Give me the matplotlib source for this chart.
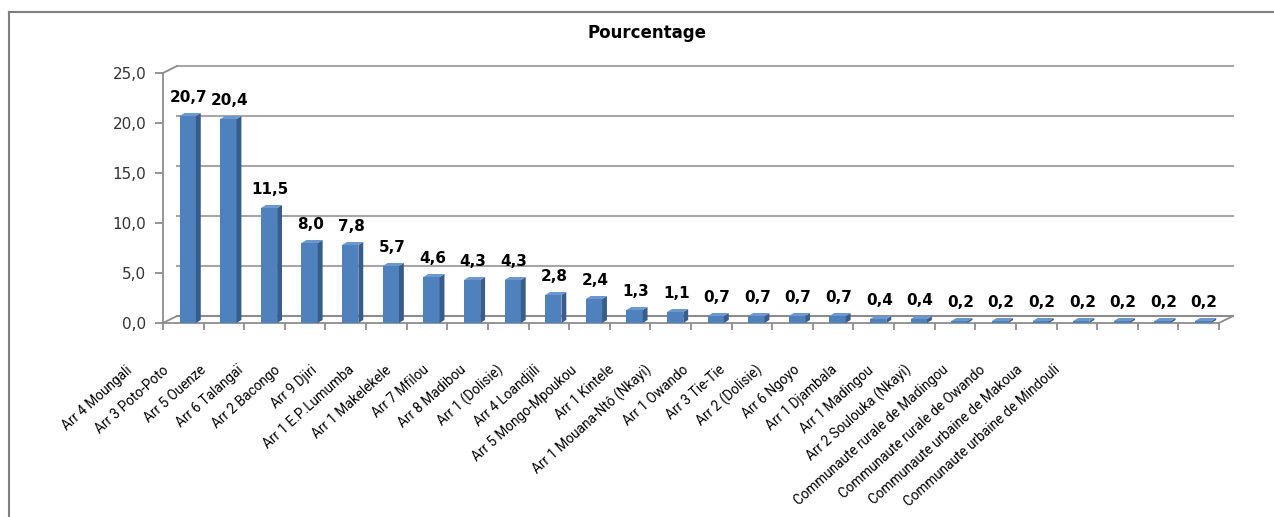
import matplotlib
matplotlib.use('Agg')
import matplotlib.pyplot as plt
from matplotlib.lines import Line2D
from matplotlib.patches import Polygon
from matplotlib.transforms import ScaledTranslation

categories = ["Arr 4 Moungali", "Arr 3 Poto-Poto", "Arr 5 Ouenze", "Arr 6 Talangaï",
              "Arr 2 Bacongo", "Arr 9 Djiri", "Arr 1 E.P.Lumumba", "Arr 1 Makelekele",
              "Arr 7 Mfilou", "Arr 8 Madibou", "Arr 1 (Dolisie)", "Arr 4 Loandjili",
              "Arr 5 Mongo-Mpoukou", "Arr 1 Kintele", "Arr 1 Mouana-Ntô (Nkayi)",
              "Arr 1 Owando", "Arr 3 Tie-Tie", "Arr 2 (Dolisie)", "Arr 6 Ngoyo",
              "Arr 1 Djambala", "Arr 1 Madingou", "Arr 2 Soulouka (Nkayi)",
              "Communaute rurale de Madingou", "Communaute rurale de Owando",
              "Communaute urbaine de Makoua", "Communaute urbaine de Mindouli"]
values = [20.7, 20.4, 11.5, 8.0, 7.8, 5.7, 4.6, 4.3, 4.3, 2.8, 2.4, 1.3, 1.1,
          0.7, 0.7, 0.7, 0.7, 0.4, 0.4, 0.2, 0.2, 0.2, 0.2, 0.2, 0.2, 0.2]
y_ticks = [0, 5, 10, 15, 20, 25]
title = "Pourcentage"

W, H = 1274, 517
fig = plt.figure(figsize=(W / 100, H / 100), dpi=100)
fig.patch.set_facecolor('white')


def fx(px):
    return px / W


def fy(py):
    return 1 - py / H


GRAY = '#8C8C8C'
GRID = '#A6A6A6'
FRONT = '#4F81BD'
SIDE = '#385D8A'
TOP = '#6D98CF'

x0, x1 = 163, 1219
yb, yt = 323, 73
ax = fig.add_axes([fx(x0), fy(yb), fx(x1) - fx(x0), fy(yt) - fy(yb)])
n = len(categories)
ax.set_xlim(0, n)
ax.set_ylim(0, 25)
ax.set_facecolor('none')
for s in ['top', 'right']:
    ax.spines[s].set_visible(False)
for s in ['left', 'bottom']:
    ax.spines[s].set_color(GRAY)
    ax.spines[s].set_linewidth(1.3)
ax.set_yticks(y_ticks)
ax.set_yticklabels([f"{t:.1f}".replace('.', ',') for t in y_ticks],
                   fontsize=11, color='#333333', family='DejaVu Sans')
ax.set_xticks(range(n + 1))
ax.set_xticklabels([])
ax.tick_params(axis='y', length=6, width=1.3, color=GRAY, pad=6)
ax.tick_params(axis='x', length=5, width=1.3, color=GRAY)

# back wall gridlines and floor (3D offset)
back = ax.transData + ScaledTranslation(14 / 100, 7 / 100, fig.dpi_scale_trans)
for t in y_ticks:
    ax.plot([0, n], [t, t], color=GRID if t > 0 else GRAY, lw=1.5,
            transform=back, clip_on=False, zorder=0)
# diagonals joining front axis to back wall
for (xd, yd) in [(0, 25), (0, 0), (n, 0)]:
    p0 = ax.transData.transform((xd, yd))
    fig.add_artist(Line2D([p0[0], p0[0] + 14], [p0[1], p0[1] + 7],
                          transform=None, color=GRAY, lw=1.3))

# 3D-like bars
off = 0.11
bw = 0.40
dx = 0.12
dy = 0.3
xs = [i + 0.5 + off for i in range(n)]
ax.bar(xs, values, width=bw, color=FRONT, zorder=3)
for xc, v in zip(xs, values):
    xl, xr = xc - bw / 2, xc + bw / 2
    ax.add_patch(Polygon([(xr, 0), (xr + dx, dy), (xr + dx, v + dy), (xr, v)],
                         closed=True, color=SIDE, zorder=3, lw=0))
    ax.add_patch(Polygon([(xl, v), (xr, v), (xr + dx, v + dy), (xl + dx, v + dy)],
                         closed=True, color=TOP, zorder=3, lw=0))
    ax.annotate(f"{v:.1f}".replace('.', ','), (xc + dx / 2, v),
                xytext=(-1, 13), textcoords='offset points', ha='center', va='center',
                fontsize=11, fontweight='bold', color='#000000', family='DejaVu Sans',
                annotation_clip=False)

# category labels (Excel places them on a slightly compressed spacing)
step = 37.1
lab = fig.add_axes([fx(130 - step / 2), fy(368), fx(step * n), 0.0001])
lab.set_xlim(-0.5, n - 0.5)
lab.set_xticks(range(n))
lab.set_xticklabels(categories, rotation=42, ha='right', va='center',
                    rotation_mode='anchor', fontsize=9.8, family='Roboto', color='#000000')
lab.tick_params(axis='x', length=0, pad=0)
lab.set_yticks([])
for s in lab.spines.values():
    s.set_visible(False)
lab.set_facecolor('none')

# title
fig.text(fx(647), fy(33), title, ha='center', va='center', fontsize=12,
         fontweight='bold', family='DejaVu Sans', color='#000000')

# chart border (left and top visible)
fig.add_artist(Line2D([fx(9), fx(9)], [fy(12), 0], transform=fig.transFigure,
                      color='#7F7F7F', lw=1.5))
fig.add_artist(Line2D([fx(9), 1], [fy(12), fy(12)], transform=fig.transFigure,
                      color='#7F7F7F', lw=1.5))

fig.savefig('out.png', dpi=100)
